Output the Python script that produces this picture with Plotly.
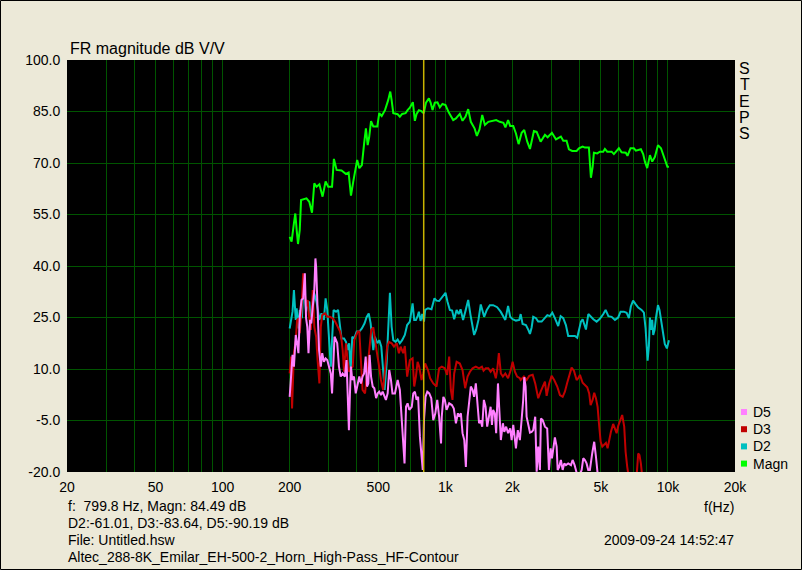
import plotly.graph_objects as go

# ---------------- data ----------------
MAGN_F = [200,204,209,212,215,218,222,225,238,245,252,258,264,272,281,290,298,310,316,325,342,358,368,377,386,402,411,422,432,440,448,455,464,475,495,505,518,536,554,566,574,584,611,625,640,663,677,693,715,730,743,761,782,800,819,844,859,876,897,922,945,971,1002,1037,1085,1116,1162,1195,1233,1267,1302,1353,1386,1424,1465,1506,1560,1617,1692,1756,1824,1862,1914,1956,2019,2076,2134,2202,2262,2334,2400,2500,2572,2680,2802,2880,3012,3140,3304,3386,3504,3590,3714,3888,3982,4138,4236,4414,4460,4508,4588,4650,4812,4946,5118,5208,5334,5584,5716,6020,6188,6466,6580,6790,7028,7176,7556,7738,7878,8066,8296,8496,8738,9016,9302,9598,9940,10100]
MAGN_DB = [48.5,47.1,52.4,55.3,50.5,46.4,50.5,59.2,59.7,58.7,55.5,64.1,63.1,63.8,60.2,64.6,63.1,63.1,71.2,68.0,67.8,66.8,67.2,60.5,64.6,70.9,68.5,69.4,75.7,80.1,75.2,77.5,82.2,80.6,80.6,84.5,83.7,85.4,88.3,90.8,88.3,84.5,84.2,83.5,84.3,84.5,85.4,86.1,87.7,82.3,84.3,85.4,85.1,84.5,87.6,88.8,87.6,85.4,87.6,87.7,86.2,87.2,86.9,84.7,82.5,83.0,84.3,82.3,83.5,85.7,82.0,80.1,77.9,79.8,84.0,81.1,82.0,82.2,82.5,82.0,81.7,80.4,82.5,80.8,80.8,78.6,75.5,78.8,79.6,76.2,74.1,79.3,79.1,76.2,78.2,77.5,78.8,76.9,77.7,76.5,76.5,74.0,73.5,73.5,74.3,74.8,74.5,74.5,70.4,65.7,68.9,73.0,72.8,73.3,73.3,74.1,73.3,73.3,72.6,74.3,73.1,73.0,72.1,74.3,74.3,73.6,74.0,72.6,70.4,68.5,72.3,70.4,71.8,75.2,74.3,71.8,68.9,68.9]

D2_F = [200,203,206,209,213,215,219,222,227,231,
        234,237,241,245,249,254,258,264,272,278,
        285,290,295,300,306,310,315,323,330,337,
        342,351,358,364,370,376,382,390,400,411,
        422,434,443,453,462,475,483,495,505,516,
        525,534,545,557,564,574,584,598,611,625,
        640,658,674,693,713,725,738,751,761,774,
        788,802,812,836,867,894,913,938,964,1002,
        1023,1048,1073,1096,1124,1148,1171,1202,1233,1267,
        1298,1319,1347,1375,1409,1443,1469,1494,1536,1585,
        1640,1710,1772,1818,1860,1914,1956,2006,2076,2148,
        2180,2224,2302,2360,2400,2442,2482,2554,2614,2708,
        2802,2872,2950,3024,3106,3214,3296,3386,3480,3564,
        3692,3820,3912,3996,4066,4138,4208,4282,4388,4494,
        4622,4782,4946,5124,5248,5400,5584,5778,5976,6126,
        6336,6518,6676,6812,6972,7154,7352,7610,7796,7934,
        8016,8100,8210,8296,8408,8496,8584,8710,8828,9016,
        9160,9302,9432,9530,9676,9888,10000,10100]
D2_DB = [21.8,23.8,26.7,33.0,24.3,27.7,21.8,27.2,24.8,35.4,
         30.6,26.7,29.1,29.6,24.3,27.7,32.0,29.6,24.3,26.2,
         24.3,30.6,27.2,19.4,10.7,18.4,27.2,26.7,27.2,22.3,
         18.9,18.9,17.9,15.5,17.5,9.2,19.4,18.9,20.9,20.9,
         21.8,23.3,25.1,26.2,23.3,15.5,19.4,17.5,18.4,16.5,
         8.7,3.9,11.6,22.3,32.2,22.3,18.4,17.9,18.6,17.5,
         18.4,19.9,22.8,23.8,29.1,24.3,24.3,25.4,26.7,24.0,
         26.0,23.8,27.2,27.7,27.4,30.6,29.9,29.8,30.9,32.2,
         29.6,27.2,27.0,24.5,27.2,26.0,27.4,24.3,27.0,30.1,
         25.7,23.3,19.9,21.4,24.3,28.8,27.2,25.2,27.2,28.6,
         28.6,28.0,26.7,25.2,24.3,28.4,25.2,24.5,24.1,24.3,
         26.0,23.1,22.8,21.4,20.2,22.1,25.2,24.8,23.8,23.8,
         25.0,25.7,25.4,26.4,24.8,22.5,25.4,24.8,22.8,19.6,
         19.6,19.6,19.1,22.1,23.8,24.5,23.1,21.5,26.0,25.2,
         24.5,23.8,24.6,26.0,27.2,25.4,25.2,24.3,25.0,26.7,
         26.7,26.4,24.8,28.2,29.9,28.9,27.9,27.2,26.4,21.8,
         16.0,12.4,16.7,25.0,21.4,24.3,19.9,21.4,24.8,28.6,
         27.2,24.3,22.1,19.4,17.3,16.0,17.0,18.4]

D3_F = [200,203,205,209,213,216,220,222,226,230,
        234,237,241,244,249,254,258,263,267,272,
        276,280,288,296,303,312,320,328,337,341,
        346,351,358,364,370,377,384,390,397,404,
        411,418,425,436,446,455,465,475,483,491,
        502,514,526,537,548,558,574,588,605,619,
        630,647,658,674,693,713,725,738,751,763,
        782,796,812,836,855,883,913,938,964,995,
        1019,1041,1059,1077,1096,1124,1162,1195,1228,1259,
        1290,1326,1371,1418,1460,1485,1520,1560,1598,1640,
        1686,1710,1740,1776,1814,1860,1914,1968,2006,2054,
        2102,2162,2180,2254,2318,2382,2468,2534,2614,2680,
        2736,2802,2852,2928,3002,3084,3182,3272,3366,3444,
        3528,3600,3692,3782,3888,3954,4024,4138,4236,4338,
        4428,4494,4588,4664,4748,4830,4898,4986,5068,5174,
        5264,5356,5446,5544,5674,5778,5880,5976,6086,6228,
        6360,6452,6562,6660,6900,7228,7350,7448,7556,7664,
        8000,9000,10000]
D3_DB = [8.7,13.6,-1.5,14.6,18.4,24.3,24.8,20.4,27.2,37.9,
         32.0,28.2,30.1,25.7,21.4,33.0,22.3,19.4,12.6,5.8,
         22.3,25.7,26.2,25.2,25.2,24.8,23.8,22.3,20.9,19.2,
         15.5,9.2,17.5,12.6,9.2,10.2,10.7,18.4,19.9,20.9,
         20.9,13.6,3.9,2.9,9.2,14.6,21.4,22.1,19.4,15.5,
         11.6,6.8,3.9,10.7,16.5,17.9,17.5,16.5,17.5,14.6,
         16.5,14.6,16.7,7.8,12.6,13.1,4.9,7.8,12.1,10.7,
         6.8,8.7,11.6,9.7,7.3,5.8,4.9,10.2,10.7,10.2,
         8.3,13.6,3.9,1.0,8.7,12.1,11.6,9.7,4.4,7.8,
         9.2,10.2,10.7,10.2,10.7,9.5,10.2,10.2,9.2,10.2,
         7.3,9.7,14.6,8.7,7.8,8.7,7.3,9.7,12.1,9.2,
         7.8,7.3,6.8,7.8,6.8,8.0,8.3,5.8,1.5,3.4,
         4.9,6.3,2.2,5.8,8.0,6.8,4.9,2.4,1.9,3.4,
         6.0,8.0,10.4,9.5,6.8,7.3,8.3,6.0,5.3,4.7,
         2.9,-0.5,1.0,3.1,1.5,-1.0,-5.8,-11.2,-12.6,-12.1,
         -11.5,-13.1,-10.7,-8.3,-6.0,-7.3,-8.7,-6.6,-4.9,-3.4,
         -6.8,-14.1,-18.5,-21.4,-28.0,-21.4,-14.6,-15.1,-17.5,-21.4,
         -30.0,-32.0,-33.0]

D5_F = [200,202,204,206,209,213,215,219,222,226,
        230,234,237,240,243,247,250,254,258,261,
        263,267,271,276,280,285,290,295,300,306,
        310,314,318,323,327,333,339,346,354,360,
        365,369,373,377,382,389,396,404,411,418,
        425,432,439,445,451,457,464,472,480,489,
        497,505,514,523,532,541,551,560,570,579,
        594,611,625,636,647,656,666,677,689,707,
        718,730,743,755,769,782,792,802,815,830,
        847,865,883,902,920,938,957,964,980,995,
        1013,1041,1070,1092,1116,1139,1155,1175,1195,1217,
        1237,1259,1281,1302,1326,1347,1371,1394,1418,1440,
        1465,1490,1516,1542,1576,1598,1620,1640,1668,1692,
        1724,1740,1776,1814,1840,1876,1914,1956,1986,2019,
        2076,2116,2162,2202,2238,2262,2294,2318,2360,2400,
        2442,2482,2534,2572,2614,2660,2688,2736,2802,2868,
        2920,2972,3012,3054,3106,3162,3196,3248,3304,3366,
        3422,3480,3564,3668,3730,3808,3860,3954,4096,4164,
        4236,4310,4384,4460,4568,4664,4748,4812,4880,5500,
        7000,10000]
D5_DB = [1.9,6.8,12.6,14.1,10.7,19.9,18.4,14.6,25.2,30.1,
         30.6,37.9,24.8,22.3,14.6,24.3,23.3,28.2,33.0,42.2,
         39.8,27.2,15.5,10.7,14.6,12.1,13.1,12.6,10.7,8.7,
         2.9,13.6,19.4,18.4,17.5,10.7,7.8,8.7,7.8,12.6,
         -1.0,-7.8,2.9,10.7,6.8,7.8,2.9,5.8,7.8,5.8,
         7.8,8.7,13.6,4.9,5.8,14.1,7.8,4.9,4.4,1.5,
         2.9,3.4,2.4,3.4,1.9,1.0,2.9,9.7,6.8,2.9,
         2.9,6.8,3.9,-3.9,-10.7,-17.5,-1.0,0.0,-1.9,-1.0,
         2.9,3.4,1.0,1.9,-9.7,-15.5,-19.4,-4.9,1.9,3.4,
         2.9,1.5,-4.9,-2.9,1.0,-3.9,-11.7,-3.9,1.9,1.0,
         -1.9,0.0,-0.5,-1.5,-5.8,-2.9,-3.9,-2.9,-8.7,-10.7,
         -18.5,-3.9,1.0,4.9,3.9,1.9,5.8,1.0,-5.8,-4.9,
         -6.8,1.0,-1.0,-6.8,-2.9,-1.0,-6.3,-1.9,-2.9,-8.7,
         5.8,0.0,-10.7,-5.8,-8.3,-6.8,-8.7,-7.3,-10.7,-6.3,
         -13.1,-7.8,-10.7,-4.7,1.0,7.6,4.9,-3.9,-6.8,-8.5,
         -8.3,-7.8,-3.9,-19.9,-12.6,-19.4,-4.4,-4.9,-6.8,-7.3,
         -19.4,-13.1,-16.0,-12.6,-9.9,-12.6,-19.4,-18.5,-16.5,-19.4,
         -17.5,-18.0,-17.5,-18.0,-16.5,-18.0,-19.9,-22.0,-19.4,-16.0,
         -16.5,-17.5,-19.4,-19.4,-14.6,-11.2,-15.5,-19.4,-23.3,-30.0,
         -32.0,-33.0]

CURSOR_F = 799.8

X_TICKS = [20, 50, 100, 200, 500, 1000, 2000, 5000, 10000, 20000]
X_TICK_TEXT = ["20", "50", "100", "200", "500", "1k", "2k", "5k", "10k", "20k"]
X_GRID = [30, 40, 50, 60, 70, 80, 90, 100, 200, 300, 400, 500, 600, 700, 800, 900,
          1000, 2000, 3000, 4000, 5000, 6000, 7000, 8000, 9000, 10000]
Y_TICKS = [-20, -5, 10, 25, 40, 55, 70, 85, 100]
Y_GRID = [-5, 10, 25, 40, 55, 70, 85]

INFO_LINES = ["f:\u00a0 799.8 Hz, Magn: 84.49 dB",
              "D2:-61.01, D3:-83.64, D5:-90.19 dB",
              "File: Untitled.hsw",
              "Altec_288-8K_Emilar_EH-500-2_Horn_High-Pass_HF-Contour"]
DATE_TEXT = "2009-09-24 14:52:47"

SERIES = [("Magn", MAGN_F, MAGN_DB, "#00FF00"),
          ("D2", D2_F, D2_DB, "#00C0C0"),
          ("D3", D3_F, D3_DB, "#C00000"),
          ("D5", D5_F, D5_DB, "#FF80FF")]
for _n, _f, _d, _c in SERIES:
    assert len(_f) == len(_d), (_n, len(_f), len(_d))

# ---------------- layout helpers ----------------
BG = "#ECE9D8"
GRID = "#005400"
FONT = "Liberation Sans, Arial, sans-serif"
W, H = 802, 570
L, R, T, B = 67, 735, 60, 472


def xp(px):
    return (px - L) / (R - L)


def yp(py):
    return (B - py) / (B - T)


fig = go.Figure()
for name, f, d, c in SERIES:
    fig.add_trace(go.Scatter(x=f, y=d, mode="lines", name=name,
                             line=dict(color=c, width=2),
                             showlegend=False, hoverinfo="skip"))
fig.add_trace(go.Scatter(x=[CURSOR_F, CURSOR_F], y=[-20, 100], mode="lines",
                         line=dict(color="#C8B400", width=1.5),
                         showlegend=False, hoverinfo="skip"))

fig.update_layout(
    width=W, height=H, autosize=False,
    margin=dict(l=L, r=W - R, t=T, b=H - B, pad=0),
    paper_bgcolor=BG, plot_bgcolor="#000000",
    font=dict(family=FONT, size=14, color="#000000"),
    showlegend=False,
    xaxis=dict(type="log", range=[1.30103, 4.30103],
               tickmode="array", tickvals=X_TICKS, ticktext=X_TICK_TEXT,
               showgrid=False, zeroline=False, showline=False,
               ticks="outside", ticklen=2, tickcolor=BG,
               tickfont=dict(size=14),
               minor=dict(tickmode="array", tickvals=X_GRID, showgrid=True,
                          gridcolor=GRID, gridwidth=1, ticks="")),
    yaxis=dict(range=[-20, 100], tickmode="array", tickvals=Y_TICKS,
               ticktext=["%.1f" % v for v in Y_TICKS],
               showgrid=False, zeroline=False, showline=False,
               ticks="outside", ticklen=3, tickcolor=BG,
               tickfont=dict(size=14),
               minor=dict(tickmode="array", tickvals=Y_GRID, showgrid=True,
                          gridcolor=GRID, gridwidth=1, ticks="")),
)

ann = []
ann.append(dict(text="FR magnitude dB V/V", x=xp(68), y=yp(48), xanchor="left",
                yanchor="middle", font=dict(size=16)))
for i, ch in enumerate("STEPS"):
    ann.append(dict(text=ch, x=xp(744.5), y=yp(68.5 + 16.3 * i), xanchor="center",
                    yanchor="middle", font=dict(size=16)))
for i, line in enumerate(INFO_LINES):
    ann.append(dict(text=line, x=xp(66), y=yp(506 + 17 * i), xanchor="left",
                    yanchor="middle", font=dict(size=14)))
ann.append(dict(text=DATE_TEXT, x=xp(736), y=yp(540), xanchor="right",
                yanchor="middle", font=dict(size=14)))
ann.append(dict(text="f(Hz)", x=xp(736), y=yp(507), xanchor="right",
                yanchor="middle", font=dict(size=14)))

shapes = []
legend_items = list(reversed(SERIES))
for i, (name, _f, _d, c) in enumerate(legend_items):
    cy = 412 + 17.2 * i
    shapes.append(dict(type="rect", xref="paper", yref="paper",
                       x0=xp(741), x1=xp(747), y0=yp(cy + 3), y1=yp(cy - 3),
                       fillcolor=c, line=dict(width=0)))
    ann.append(dict(text=name, x=xp(750.5), y=yp(cy), xanchor="left",
                    yanchor="middle", font=dict(size=14)))

shapes.append(dict(type="rect", xref="paper", yref="paper",
                   x0=xp(0.5), x1=xp(801.5), y0=yp(569.5), y1=yp(0.5),
                   line=dict(color="#000000", width=1), fillcolor="rgba(0,0,0,0)"))

for a in ann:
    a.update(xref="paper", yref="paper", showarrow=False)
fig.update_layout(annotations=ann, shapes=shapes)

fig.write_html("out.html",
               config={"displayModeBar": False},
               post_script="document.body.style.margin='0';"
                           "document.body.style.overflow='hidden';")
